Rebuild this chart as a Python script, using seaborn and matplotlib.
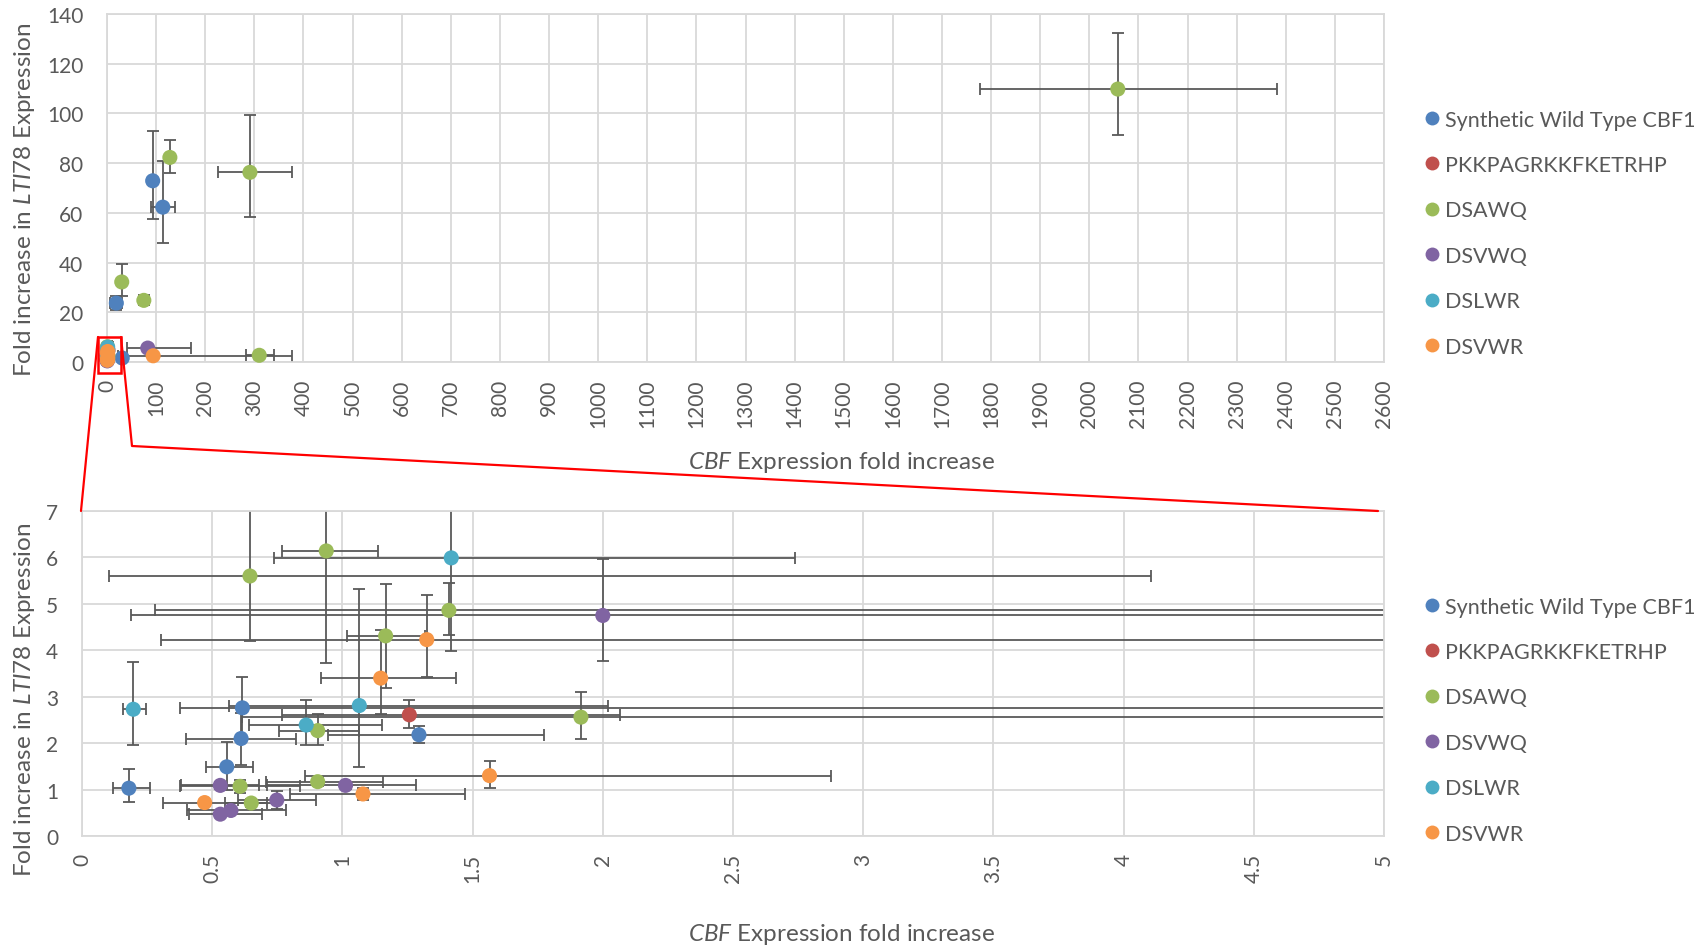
import matplotlib
matplotlib.use("Agg")
import matplotlib.pyplot as plt
from matplotlib.lines import Line2D
from matplotlib.patches import Rectangle
from matplotlib.ticker import FuncFormatter
import numpy as np
import pandas as pd
import seaborn as sns

# ---------------- data ----------------
series_names = ["Synthetic Wild Type CBF1", "PKKPAGRKKFKETRHP", "DSAWQ",
                "DSVWQ", "DSLWR", "DSVWR"]
series_colors = ["#4F81BD", "#C0504D", "#9BBB59", "#8064A2", "#4BACC6", "#F79646"]

# Synthetic Wild Type CBF1
wt_x = [0.18, 0.556, 0.611, 0.616, 1.294, 31, 19, 93, 113.6]
wt_y = [1.03, 1.49, 2.10, 2.76, 2.18, 1.6, 23.7, 72.9, 62.3]
wt_xlo = [0.06, 0.08, 0.21, 0.24, 0.35, 5, 12, 2, 25]
wt_xhi = [0.08, 0.10, 0.21, 4.60, 0.48, 5, 12, 2, 25]
wt_ylo = [0.30, 0.50, 0.56, 0.66, 0.18, 1.0, 2.7, 15.5, 14.3]
wt_yhi = [0.42, 0.54, 0.56, 0.66, 0.18, 1.0, 2.7, 19.9, 18.5]

# PKKPAGRKKFKETRHP
pk_x = [1.257]
pk_y = [2.61]
pk_xlo = [0.49]
pk_xhi = [0.81]
pk_ylo = [0.29]
pk_yhi = [0.33]

# DSAWQ
aw_x = [0.645, 0.938, 1.409, 1.166, 0.905, 1.916, 0.905, 0.607, 0.65,
        128, 291, 30, 75, 310, 2058]
aw_y = [5.60, 6.14, 4.86, 4.31, 2.27, 2.56, 1.17, 1.07, 0.71,
        82.3, 76.3, 32.2, 24.8, 2.7, 109.8]
aw_xlo = [0.54, 0.17, 1.13, 0.15, 0.15, 1.30, 0.20, 0.23, 0.10,
          1, 65, 1, 2, 28, 281]
aw_xhi = [3.46, 0.20, 4.00, 0.15, 0.16, 3.50, 0.25, 0.23, 0.10,
          1, 85, 1, 2, 30, 324]
aw_ylo = [1.40, 2.41, 0.52, 1.12, 0.30, 0.47, 0.10, 0.14, 0.08,
          6.2, 18.0, 5.8, 2.0, 0.5, 18.5]
aw_yhi = [1.60, 2.41, 0.58, 1.12, 0.35, 0.55, 0.10, 0.14, 0.08,
          7.1, 23.2, 7.1, 2.0, 0.5, 22.5]

# DSVWQ
vq_x = [2.0, 0.531, 1.012, 0.748, 0.531, 0.572, 83]
vq_y = [4.75, 1.09, 1.09, 0.775, 0.47, 0.55, 5.6]
vq_xlo = [1.81, 0.15, 0.30, 0.15, 0.12, 0.17, 42]
vq_xhi = [3.50, 0.15, 0.27, 0.15, 0.16, 0.21, 88]
vq_ylo = [0.97, 0.08, 0.08, 0.20, 0.05, 0.05, 0.6]
vq_yhi = [1.22, 0.08, 0.08, 0.20, 0.05, 0.05, 0.6]

# DSLWR
lw_x = [0.197, 1.418, 1.065, 0.861]
lw_y = [2.73, 5.99, 2.81, 2.39]
lw_xlo = [0.04, 0.68, 0.50, 0.22]
lw_xhi = [0.05, 1.32, 0.955, 0.29]
lw_ylo = [0.76, 2.00, 1.32, 0.43]
lw_yhi = [1.02, 2.00, 2.52, 0.55]

# DSVWR
vr_x = [1.324, 1.147, 1.565, 1.079, 0.471, 94]
vr_y = [4.23, 3.40, 1.30, 0.905, 0.72, 2.5]
vr_xlo = [1.02, 0.23, 0.71, 0.28, 0.16, 72]
vr_xhi = [4.00, 0.29, 1.31, 0.39, 0.24, 282]
vr_ylo = [0.80, 0.78, 0.26, 0.13, 0.05, 0.5]
vr_yhi = [0.97, 1.04, 0.31, 0.13, 0.05, 0.5]

top_xticks = list(range(0, 2601, 100))
top_yticks = list(range(0, 141, 20))
bot_xticks = [0, 0.5, 1, 1.5, 2, 2.5, 3, 3.5, 4, 4.5, 5]
bot_yticks = [0, 1, 2, 3, 4, 5, 6, 7]

# ---------------- table ----------------
groups = [
    (wt_x, wt_y, wt_xlo, wt_xhi, wt_ylo, wt_yhi),
    (pk_x, pk_y, pk_xlo, pk_xhi, pk_ylo, pk_yhi),
    (aw_x, aw_y, aw_xlo, aw_xhi, aw_ylo, aw_yhi),
    (vq_x, vq_y, vq_xlo, vq_xhi, vq_ylo, vq_yhi),
    (lw_x, lw_y, lw_xlo, lw_xhi, lw_ylo, lw_yhi),
    (vr_x, vr_y, vr_xlo, vr_xhi, vr_ylo, vr_yhi),
]
rows = []
for name, g in zip(series_names, groups):
    for vals in zip(*g):
        rows.append((name,) + vals)
df = pd.DataFrame(rows, columns=["series", "x", "y", "xlo", "xhi", "ylo", "yhi"])
palette = dict(zip(series_names, series_colors))

# ---------------- style ----------------
sns.set_theme(style="whitegrid")
TXT = "#595959"
GRID = "#D9D9D9"
plt.rcParams["font.family"] = ["Lato", "DejaVu Sans"]
plt.rcParams["mathtext.fontset"] = "custom"
plt.rcParams["mathtext.it"] = "Lato:italic"
plt.rcParams["mathtext.rm"] = "Lato"
plt.rcParams["mathtext.bf"] = "Lato:bold"

W, H = 1704, 953
fig = plt.figure(figsize=(W / 100, H / 100), dpi=100)
fig.patch.set_facecolor("white")


def fx(px):
    return px / W


def fy(py):
    return 1 - py / H


ax_top = fig.add_axes([fx(107), fy(363), fx(1384) - fx(107), fy(15) - fy(363)])
ax_bot = fig.add_axes([fx(82), fy(837), fx(1384) - fx(82), fy(512) - fy(837)])

fmt = FuncFormatter(lambda v, p: f"{v:g}")


def draw(ax, clip, xlim, ylim, xticks, yticks):
    for name in series_names:
        d = df[df.series == name]
        ax.errorbar(d.x, d.y, xerr=[d.xlo, d.xhi], yerr=[d.ylo, d.yhi], fmt="none",
                    ecolor="#595959", elinewidth=1.3, capsize=4.5, capthick=1.3,
                    zorder=2)
    sns.scatterplot(data=df, x="x", y="y", hue="series", palette=palette,
                    hue_order=series_names, s=118, edgecolor="none", linewidth=0,
                    legend=False, ax=ax, zorder=3, clip_on=clip)
    ax.set_xlim(*xlim)
    ax.set_ylim(*ylim)
    ax.set_xticks(xticks)
    ax.set_yticks(yticks)
    ax.xaxis.set_major_formatter(fmt)
    ax.yaxis.set_major_formatter(fmt)
    ax.grid(True, color=GRID, linewidth=1.3)
    for s in ax.spines.values():
        s.set_color(GRID)
        s.set_linewidth(1.3)
    ax.tick_params(axis="x", length=0, pad=12, labelsize=15, labelcolor=TXT,
                   labelrotation=90)
    ax.tick_params(axis="y", length=0, pad=17, labelsize=15, labelcolor=TXT)
    ax.set_xlabel("")
    ax.set_ylabel("")
    ax.set_facecolor("white")


draw(ax_top, False, (0, 2600), (0, 140), top_xticks, top_yticks)
draw(ax_bot, True, (0, 5), (0, 7), bot_xticks, bot_yticks)

# axis titles
ylab = r"Fold increase in $\mathit{LTI78}$ Expression"
xlab = r"$\mathit{CBF}$ Expression fold increase"
fig.text(fx(25), fy(200), ylab, rotation=90, ha="center", va="center",
         fontsize=17.5, color=TXT)
fig.text(fx(25), fy(700), ylab, rotation=90, ha="center", va="center",
         fontsize=17.5, color=TXT)
fig.text(fx(842), fy(463), xlab, ha="center", va="center", fontsize=17.5, color=TXT)
fig.text(fx(842), fy(935), xlab, ha="center", va="center", fontsize=17.5, color=TXT)

# legends
handles = [Line2D([], [], marker="o", linestyle="none", markersize=10,
                  markerfacecolor=c, markeredgecolor="none") for c in series_colors]
for top_y in (120, 607):
    fig.legend(handles, series_names, loc="upper left",
               bbox_to_anchor=(fx(1416), fy(top_y - 18)), frameon=False,
               fontsize=15.5, labelcolor=TXT, handlelength=0.7,
               handletextpad=0.25, labelspacing=1.18, borderaxespad=0)

# zoom annotation (red)
red = "#FF0000"
fig.add_artist(Rectangle((fx(98), fy(374)), fx(121) - fx(98), fy(338) - fy(374),
                         transform=fig.transFigure, fill=False, edgecolor=red,
                         linewidth=1.8, zorder=10))
fig.add_artist(Line2D([fx(98), fx(81)], [fy(338), fy(512)], transform=fig.transFigure,
                      color=red, linewidth=1.6, zorder=10))
fig.add_artist(Line2D([fx(121), fx(132), fx(1378)], [fy(338), fy(447), fy(512)],
                      transform=fig.transFigure, color=red, linewidth=1.6, zorder=10))

fig.savefig("out.png", dpi=100, facecolor="white")
